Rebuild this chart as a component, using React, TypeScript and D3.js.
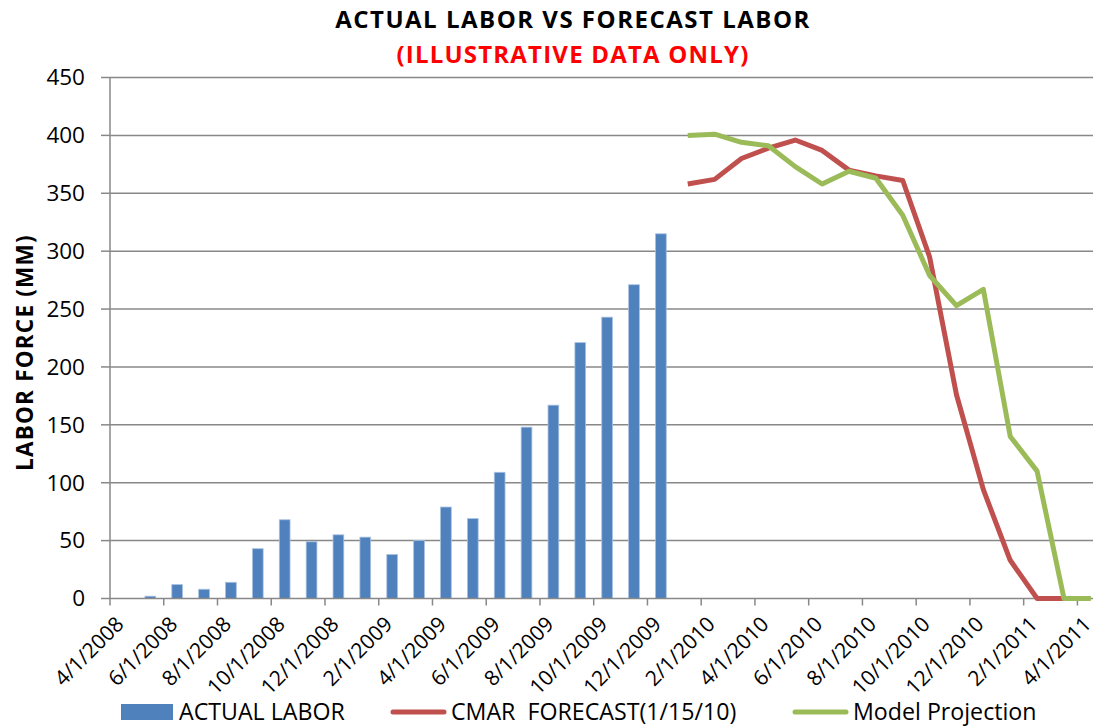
import * as d3 from "d3";
import React from "react";

// actual labor by month (mid-month points)
const actualMonths = [
  "2008-05", "2008-06", "2008-07", "2008-08", "2008-09", "2008-10", "2008-11",
  "2008-12", "2009-01", "2009-02", "2009-03", "2009-04", "2009-05", "2009-06",
  "2009-07", "2009-08", "2009-09", "2009-10", "2009-11", "2009-12",
];
const actualLabor = [2, 12, 8, 14, 43, 68, 49, 55, 53, 38, 50, 79, 69, 109, 148, 167, 221, 243, 271, 315];

const cmarMonths = [
  "2010-01", "2010-02", "2010-03", "2010-04", "2010-05", "2010-06", "2010-07", "2010-08",
  "2010-09", "2010-10", "2010-11", "2010-12", "2011-01", "2011-02", "2011-03",
];
const cmarForecast = [358, 362, 380, 389, 396, 387, 370, 365, 361, 295, 176, 94, 33, 0, 0];

const modelMonths = [
  "2010-01", "2010-02", "2010-03", "2010-04", "2010-05", "2010-06", "2010-07", "2010-08",
  "2010-09", "2010-10", "2010-11", "2010-12", "2011-01", "2011-02", "2011-03", "2011-04",
];
const modelProjection = [400, 401, 394, 391, 373, 358, 369, 363, 331, 279, 253, 267, 140, 110, 0, 0];

const xTickLabels = [
  "4/1/2008", "6/1/2008", "8/1/2008", "10/1/2008", "12/1/2008", "2/1/2009", "4/1/2009",
  "6/1/2009", "8/1/2009", "10/1/2009", "12/1/2009", "2/1/2010", "4/1/2010", "6/1/2010",
  "8/1/2010", "10/1/2010", "12/1/2010", "2/1/2011", "4/1/2011",
];
const yTicks = [0, 50, 100, 150, 200, 250, 300, 350, 400, 450];

// months since 4/1/2008
const monthIndex = (ym: string) => {
  const [y, m] = ym.split("-").map(Number);
  return (y - 2008) * 12 + (m - 4);
};
const tickIndex = (label: string) => {
  const [m, , y] = label.split("/").map(Number);
  return (y - 2008) * 12 + (m - 4);
};

const FONT = "'Open Sans', 'DejaVu Sans', sans-serif";
const GRID = "#888888";

export default function App() {
  const x = d3.scaleLinear().domain([0, 36.58]).range([110, 1093]);
  const y = d3.scaleLinear().domain([0, 450]).range([598.5, 77.5]);
  const barW = x(0.4) - x(0);

  const line = d3
    .line<[number, number]>()
    .x((d) => x(d[0]))
    .y((d) => y(d[1]));

  const cmarPts = cmarMonths.map((m, i) => [monthIndex(m) + 0.5, cmarForecast[i]] as [number, number]);
  const modelPts = modelMonths.map((m, i) => [monthIndex(m) + 0.5, modelProjection[i]] as [number, number]);

  return (
    <svg
      width={1096}
      height={726}
      style={{ position: "fixed", left: 0, top: 0, background: "#fff" }}
      fontFamily={FONT}
    >
      {/* titles */}
      <text x={573} y={28} textAnchor="middle" fontSize={24} fontWeight={700} letterSpacing={1.5} fill="#000">
        ACTUAL LABOR VS FORECAST LABOR
      </text>
      <text x={573} y={63} textAnchor="middle" fontSize={24} fontWeight={700} letterSpacing={1.2} fill="#ff0000">
        (ILLUSTRATIVE DATA ONLY)
      </text>

      {/* grid */}
      {yTicks.slice(1).map((t) => (
        <line key={t} x1={110} x2={1093} y1={y(t)} y2={y(t)} stroke={GRID} strokeWidth={1.5} />
      ))}

      {/* y axis */}
      <line x1={110} x2={110} y1={y(450)} y2={y(0)} stroke={GRID} strokeWidth={1.5} />
      {yTicks.map((t) => (
        <g key={t}>
          <line x1={101} x2={110} y1={y(t)} y2={y(t)} stroke={GRID} strokeWidth={1.5} />
          <text x={85} y={y(t)} dy="0.35em" textAnchor="end" fontSize={22.5} fill="#000">
            {t}
          </text>
        </g>
      ))}
      <text
        transform="translate(33,471) rotate(-90)"
        textAnchor="start"
        fontSize={22.5}
        fontWeight={700}
        letterSpacing={1.2}
        fill="#000"
      >
        LABOR FORCE (MM)
      </text>

      {/* bars */}
      {actualMonths.map((m, i) => (
        <rect
          key={m}
          x={x(monthIndex(m) + 0.5) - barW / 2}
          y={y(actualLabor[i])}
          width={barW}
          height={y(0) - y(actualLabor[i])}
          fill="#4f81bd"
          stroke="#a9c1e2"
          strokeWidth={0.8}
        />
      ))}

      {/* x axis */}
      <line x1={110} x2={1093} y1={y(0)} y2={y(0)} stroke={GRID} strokeWidth={1.5} />
      {xTickLabels.map((lab) => {
        const tx = x(tickIndex(lab));
        return (
          <g key={lab}>
            <line x1={tx} x2={tx} y1={y(0)} y2={y(0) + 7} stroke={GRID} strokeWidth={1.5} />
            <text
              transform={`translate(${tx + 15},${y(0) + 27}) rotate(-45)`}
              textAnchor="end"
              fontSize={21}
              fill="#000"
            >
              {lab}
            </text>
          </g>
        );
      })}

      {/* lines */}
      <path d={line(cmarPts) || ""} fill="none" stroke="#c0504d" strokeWidth={5} strokeLinejoin="round" />
      <path d={line(modelPts) || ""} fill="none" stroke="#9bbb59" strokeWidth={5} strokeLinejoin="round" />

      {/* legend */}
      <rect x={121} y={704} width={52} height={16} fill="#4f81bd" />
      <text x={179} y={720} fontSize={23.2} fill="#000">ACTUAL LABOR</text>
      <line x1={393} x2={444} y1={712} y2={712} stroke="#c0504d" strokeWidth={5} strokeLinecap="round" />
      <text x={451} y={720} fontSize={23.2} fill="#000" style={{ whiteSpace: "pre" }}>
        {"CMAR  FORECAST(1/15/10)"}
      </text>
      <line x1={795} x2={846} y1={712} y2={712} stroke="#9bbb59" strokeWidth={5} strokeLinecap="round" />
      <text x={853} y={720} fontSize={23.2} fill="#000">Model Projection</text>
    </svg>
  );
}
